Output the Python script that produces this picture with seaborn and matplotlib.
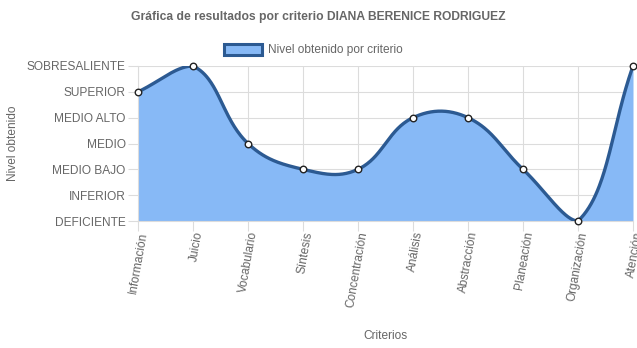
import numpy as np
import pandas as pd
import matplotlib
matplotlib.use("Agg")
import matplotlib.pyplot as plt
import matplotlib.transforms as mtransforms
from matplotlib.patches import Patch
import seaborn as sns

# ---- data ----
criterios = ["Información", "Juicio", "Vocabulario", "Síntesis", "Concentración",
             "Análisis", "Abstracción", "Planeación", "Organización", "Atención"]
niveles_labels = ["DEFICIENTE", "INFERIOR", "MEDIO BAJO", "MEDIO", "MEDIO ALTO",
                  "SUPERIOR", "SOBRESALIENTE"]
valores = [5, 6, 3, 2, 2, 4, 4, 2, 0, 6]

titulo = "Gráfica de resultados por criterio DIANA BERENICE RODRIGUEZ"
serie = "Nivel obtenido por criterio"

sns.set_theme(style="white")
plt.rcParams["font.family"] = ["Liberation Sans", "DejaVu Sans"]

FILL = "#87b9f6"
LINE = "#2c5a92"
GRID = "#dcdcdc"
TXT = "#666666"

fig = plt.figure(figsize=(6.37, 3.48), dpi=100)
L, R, T, B = 138, 633, 66, 221
ax = fig.add_axes([L / 637, 1 - B / 348, (R - L) / 637, (B - T) / 348])

x = np.arange(len(criterios), dtype=float)
y = np.array(valores, dtype=float)
ymax = len(niveles_labels) - 1

# Chart.js-like spline (tension 0.4) computed in pixel space
sx = (R - L) / (len(criterios) - 1)
sy = (B - T) / ymax
px, py = x * sx, y * sy
t = 0.4
n = len(px)
cp_prev = np.zeros((n, 2)); cp_next = np.zeros((n, 2))
for i in range(n):
    p = np.array([px[max(i - 1, 0)], py[max(i - 1, 0)]])
    c = np.array([px[i], py[i]])
    q = np.array([px[min(i + 1, n - 1)], py[min(i + 1, n - 1)]])
    d01 = np.hypot(*(c - p)); d12 = np.hypot(*(q - c))
    tot = d01 + d12
    s01 = d01 / tot if tot else 0; s12 = d12 / tot if tot else 0
    cp_prev[i] = c - t * s01 * (q - p)
    cp_next[i] = c + t * s12 * (q - p)
# cap to chart area
for arr in (cp_prev, cp_next):
    arr[:, 0] = np.clip(arr[:, 0], 0, px[-1])
    arr[:, 1] = np.clip(arr[:, 1], 0, ymax * sy)

cx, cy = [], []
tt = np.linspace(0, 1, 60)
for i in range(n - 1):
    P0 = np.array([px[i], py[i]]); P1 = cp_next[i]; P2 = cp_prev[i + 1]; P3 = np.array([px[i + 1], py[i + 1]])
    pts = ((1 - tt)[:, None] ** 3 * P0 + 3 * (1 - tt)[:, None] ** 2 * tt[:, None] * P1
           + 3 * (1 - tt)[:, None] * tt[:, None] ** 2 * P2 + tt[:, None] ** 3 * P3)
    cx.extend(pts[:, 0] / sx); cy.extend(pts[:, 1] / sy)
curve = pd.DataFrame({"x": cx, "y": cy})

ax.fill_between(curve["x"], curve["y"], 0, color=FILL, zorder=2, linewidth=0)
sns.lineplot(data=curve, x="x", y="y", sort=False, ax=ax, color=LINE, linewidth=2.4, zorder=3)
pts = pd.DataFrame({"x": x, "y": y})
sns.scatterplot(data=pts, x="x", y="y", ax=ax, s=22, color="white", edgecolor="#222222",
                linewidth=1.0, zorder=4, clip_on=False)

ax.set_xlim(0, len(criterios) - 1)
ax.set_ylim(0, ymax)
ax.set_xticks(x)
ax.set_xticklabels(criterios, rotation=80, ha="right", va="top", rotation_mode="anchor",
                   color=TXT, fontsize=8.6)
offset = mtransforms.ScaledTranslation(4 / 100, 0, fig.dpi_scale_trans)
for lab in ax.get_xticklabels():
    lab.set_transform(lab.get_transform() + offset)
ax.set_yticks(range(len(niveles_labels)))
ax.set_yticklabels(niveles_labels, color=TXT, fontsize=8.6)
ax.tick_params(axis="both", length=7, width=0.8, color=GRID, pad=2, bottom=True, left=True)
ax.tick_params(axis="x", pad=0)
ax.grid(True, color=GRID, linewidth=0.8, zorder=0)
ax.set_axisbelow(True)
for s in ["top", "right"]:
    ax.spines[s].set_visible(False)
for s in ["left", "bottom"]:
    ax.spines[s].set_color(GRID); ax.spines[s].set_linewidth(0.8)

ax.set_xlabel("Criterios", color=TXT, fontsize=8.6)
ax.set_ylabel("Nivel obtenido", color=TXT, fontsize=8.6)
ax.xaxis.set_label_coords((385.5 - L) / (R - L), (B - 330) / (B - T))
ax.yaxis.set_label_coords((19 - L) / (R - L), (B - 143) / (B - T))

fig.text(318.5 / 637, 1 - 17 / 348, titulo, ha="center", va="center", fontsize=8.7,
         fontweight="bold", color=TXT)

handle = Patch(facecolor=FILL, edgecolor=LINE, linewidth=2.2)
fig.legend([handle], [serie], loc="center", bbox_to_anchor=(313 / 637, 1 - 50 / 348),
           frameon=False, fontsize=8.6, labelcolor=TXT, handlelength=3.2, handleheight=1.1,
           handletextpad=0.5, borderpad=0)

fig.savefig("out.png", dpi=100)
